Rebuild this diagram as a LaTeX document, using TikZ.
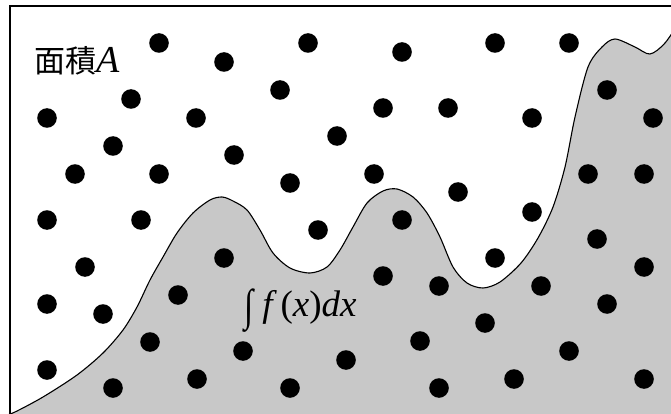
\documentclass[tikz,border=0pt]{standalone}
\usepackage{fontspec}
\usepackage{graphicx}
\setmainfont{Liberation Serif}
\newfontfamily\tnr{Liberation Serif}
\newfontfamily\cjk{Noto Sans CJK JP}
\definecolor{hill}{RGB}{200,200,200}
\tikzset{
  dotmark/.style={fill=black},
  curveline/.style={line width=1.1pt, line join=round},
  framestyle/.style={line width=1.2pt},
  lbl/.style={inner sep=0pt, anchor=base west}
}
\begin{document}
\begin{tikzpicture}[x=1pt,y=-1pt]
\useasboundingbox (0,0) rectangle (671,414);
\clip (0,0) rectangle (671,414);
\fill[white] (0,0) rectangle (671,414);
% shaded region under the curve
\filldraw[fill=hill, curveline] plot[smooth, tension=0.5] coordinates {
 (4,416) (15,412) (43,397) (77,375) (103,353) (123,330) (137,307) (150,280)
 (163,257) (177,233) (193,213) (210,200) (222,197) (233,201) (247,210)
 (260,230) (273,253) (290,268) (310,273) (327,267) (340,250) (353,227)
 (367,203) (383,191) (397,189) (413,197) (427,213) (440,237) (453,267)
 (467,283) (483,288) (500,282) (521,263) (538,238) (553,207) (565,167)
 (575,117) (588,67) (602,47) (615,39) (635,47) (650,54) (665,43) (682,18)}
 -- (700,0) -- (700,440) -- (-10,440) -- cycle;
% frame (right and bottom edges lie outside the picture)
\draw[framestyle] (10,6) rectangle (690,440);
% dots
\foreach \p in {
 (159,43),(308,43),(224,62),(280,90),(131,99),(47,118),(196,118),(337,136),
 (113,146),(234,155),(75,174),(159,174),(290,183),(402,52),(495,43),(569,43),
 (383,108),(448,108),(532,118),(374,174),(458,192),(532,212),(47,220),(141,220),
 (318,230),(85,267),(47,304),(103,314),(47,370),(402,220),(495,258),
 (607,90),(653,118),(588,174),(644,174),(224,258),(178,295),(150,342),(243,351),
 (113,388),(197,379),(290,388),(597,239),(644,267),(383,276),(439,286),(541,286),
 (607,304),(485,323),(420,341),(346,360),(569,351),(439,388),(514,379),(644,379)}
 \fill[dotmark] \p circle (9.8);
% labels
\node[lbl] (areaA) at (34,73) {{\fontsize{31}{36}\selectfont\cjk 面積}{\fontsize{38}{40}\selectfont\tnr\itshape A}};
\node[lbl] (integ) at (244,316) {\fontsize{37}{40}\selectfont\tnr \raisebox{-4pt}{\scalebox{0.9}[1.2]{∫}}\kern9pt{\itshape f}\kern8pt(\textit{x})\textit{dx}};
\end{tikzpicture}
\end{document}
